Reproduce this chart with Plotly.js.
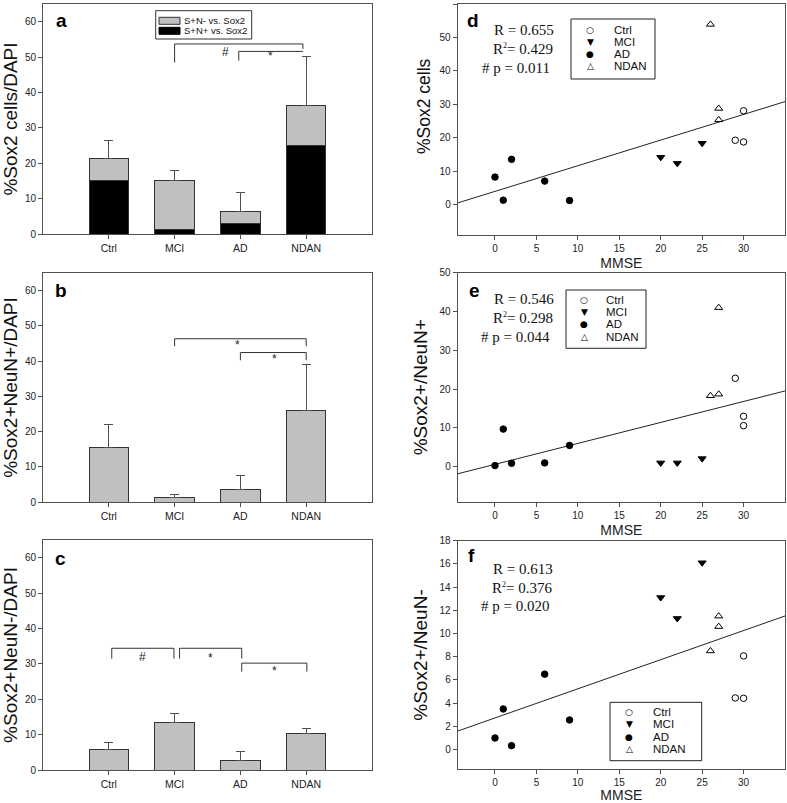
<!DOCTYPE html>
<html><head><meta charset="utf-8">
<script src="https://cdn.plot.ly/plotly-3.0.1.min.js"></script>
<style>body{margin:0;background:#fff}#chart{width:787px;height:803px}</style>
</head><body><div id="chart"></div>
<script>
// ---------- DATA ----------
const categories = ['Ctrl', 'MCI', 'AD', 'NDAN'];
// panel a (stacked)
const aNeuNpos = [15.2, 1.4, 3.0, 25.1];     // S+N+ vs. Sox2 (black)
const aNeuNneg = [6.0, 13.7, 3.5, 11.1];     // S+N- vs. Sox2 (gray, stacked on top)
const aErr = [5.3, 2.9, 5.2, 14.1];
// panel b
const bVal = [15.5, 1.5, 3.5, 26.0];
const bErr = [6.5, 0.6, 4.1, 13.0];
// panel c
const cVal = [5.7, 13.5, 2.8, 10.2];
const cErr = [2.1, 2.5, 2.4, 1.6];
// MMSE scores per group
const mmseCtrl = [29, 30, 30];
const mmseMCI = [20, 22, 25];
const mmseAD = [0, 1, 2, 6, 9];
const mmseNDAN = [26, 27, 27];
// panel d  %Sox2 cells
const dCtrl = [19.3, 18.8, 28.1];
const dMCI = [14.2, 12.4, 18.4];
const dAD = [8.3, 1.4, 13.6, 7.1, 1.3];
const dNDAN = [53.9, 28.8, 25.4];
// panel e  %Sox2+/NeuN+
const eCtrl = [22.8, 13.0, 10.6];
const eMCI = [1.0, 1.0, 2.1];
const eAD = [0.3, 9.7, 0.9, 1.0, 5.5];
const eNDAN = [18.3, 18.7, 41.0];
// panel f  %Sox2+/NeuN-
const fCtrl = [4.45, 4.42, 8.07];
const fMCI = [13.1, 11.3, 16.1];
const fAD = [1.0, 3.5, 0.34, 6.5, 2.55];
const fNDAN = [8.5, 10.6, 11.5];
const SUP2 = 'R<sup><span style="font-size:8px">2</span></sup>';
const statsD = ['R = 0.655', SUP2 + '= 0.429', '# p = 0.011'];
const statsE = ['R = 0.546', SUP2 + '= 0.298', '# p = 0.044'];
const statsF = ['R = 0.613', SUP2 + '= 0.376', '# p = 0.020'];

// ---------- HELPERS ----------
const W = 787, H = 803;
const px = v => v / W;
const py = v => 1 - v / H;
const FONT = 'Liberation Sans, Arial, sans-serif';
const SERIF = 'Liberation Serif, Times New Roman, serif';
const FRAME = '#505050';
const GRAY = '#c0c0c0';

function fitLine(xs, ys) {
  const n = xs.length;
  const mx = xs.reduce((a, b) => a + b, 0) / n;
  const my = ys.reduce((a, b) => a + b, 0) / n;
  let sxy = 0, sxx = 0;
  for (let i = 0; i < n; i++) { sxy += (xs[i] - mx) * (ys[i] - my); sxx += (xs[i] - mx) ** 2; }
  const s = sxy / sxx;
  return { s: s, b: my - s * mx };
}

const traces = [];
function errBar(arr) {
  return { type: 'data', symmetric: false, array: arr, arrayminus: arr.map(() => 0),
           color: FRAME, thickness: 1, width: 4.5 };
}
// panel a
traces.push({ type: 'bar', x: categories, y: aNeuNpos, xaxis: 'x', yaxis: 'y', width: 0.6,
  marker: { color: '#000', line: { color: '#333', width: 1 } }, showlegend: false });
traces.push({ type: 'bar', x: categories, y: aNeuNneg, xaxis: 'x', yaxis: 'y', width: 0.6,
  marker: { color: GRAY, line: { color: '#333', width: 1 } }, error_y: errBar(aErr), showlegend: false });
// panel b
traces.push({ type: 'bar', x: categories, y: bVal, xaxis: 'x2', yaxis: 'y2', width: 0.6,
  marker: { color: GRAY, line: { color: '#333', width: 1 } }, error_y: errBar(bErr), showlegend: false });
// panel c
traces.push({ type: 'bar', x: categories, y: cVal, xaxis: 'x3', yaxis: 'y3', width: 0.6,
  marker: { color: GRAY, line: { color: '#333', width: 1 } }, error_y: errBar(cErr), showlegend: false });

const xRange = [-4.5, 35];
function scatterPanel(xa, ya, ctrl, mci, ad, ndan) {
  const mk = (x, y, sym, size) => ({ type: 'scatter', mode: 'markers', x: x, y: y, xaxis: xa, yaxis: ya,
    marker: { symbol: sym, size: size, color: '#000', line: { color: '#000', width: 1 } }, showlegend: false, cliponaxis: false });
  const allX = mmseCtrl.concat(mmseMCI, mmseAD, mmseNDAN);
  const allY = ctrl.concat(mci, ad, ndan);
  const f = fitLine(allX, allY);
  traces.push({ type: 'scatter', mode: 'lines', x: xRange, y: xRange.map(v => f.s * v + f.b), xaxis: xa, yaxis: ya,
    line: { color: '#222', width: 1 }, showlegend: false });
  traces.push(mk(mmseAD, ad, 'circle', 6.5));
  traces.push(mk(mmseMCI, mci, 'triangle-down', 7));
  traces.push(mk(mmseCtrl, ctrl, 'circle-open', 6.5));
  traces.push(mk(mmseNDAN, ndan, 'triangle-up-open', 7));
}
scatterPanel('x4', 'y4', dCtrl, dMCI, dAD, dNDAN);
scatterPanel('x5', 'y5', eCtrl, eMCI, eAD, eNDAN);
scatterPanel('x6', 'y6', fCtrl, fMCI, fAD, fNDAN);

// ---------- AXES ----------
const tickfont = { family: FONT, size: 10, color: '#222' };
function baseAxis(extra) {
  return Object.assign({ showline: true, mirror: true, linecolor: FRAME, linewidth: 1,
    ticks: 'outside', ticklen: 4, tickcolor: FRAME, tickwidth: 1, tickfont: tickfont,
    showgrid: false, zeroline: false, fixedrange: true }, extra);
}
const leftX = [px(43), px(372)];
const rightX = [px(457.7), px(785)];
const ytitle = (t, s) => ({ text: t, font: { family: FONT, size: 19, color: '#111' }, standoff: s });
const layout = {
  width: W, height: H, margin: { l: 0, r: 0, t: 0, b: 0 }, paper_bgcolor: '#fff', plot_bgcolor: '#fff',
  barmode: 'stack', showlegend: false, font: { family: FONT, color: '#222' },
  xaxis: baseAxis({ domain: leftX, anchor: 'y', type: 'category', range: [-1, 4], tickfont: { family: FONT, size: 10.5, color: '#222' } }),
  yaxis: baseAxis({ domain: [py(234), py(4)], anchor: 'x', range: [0, 65], tickvals: [0, 10, 20, 30, 40, 50, 60],
    title: ytitle('%Sox2 cells/DAPI', 7) }),
  xaxis2: baseAxis({ domain: leftX, anchor: 'y2', type: 'category', range: [-1, 4], tickfont: { family: FONT, size: 10.5, color: '#222' } }),
  yaxis2: baseAxis({ domain: [py(502.3), py(272.7)], anchor: 'x2', range: [0, 65], tickvals: [0, 10, 20, 30, 40, 50, 60],
    title: ytitle('%Sox2+NeuN+/DAPI', 7) }),
  xaxis3: baseAxis({ domain: leftX, anchor: 'y3', type: 'category', range: [-1, 4], tickfont: { family: FONT, size: 10.5, color: '#222' } }),
  yaxis3: baseAxis({ domain: [py(770), py(540)], anchor: 'x3', range: [0, 65], tickvals: [0, 10, 20, 30, 40, 50, 60],
    title: ytitle('%Sox2+NeuN-/DAPI', 7) }),
  xaxis4: baseAxis({ domain: rightX, anchor: 'y4', range: xRange, tickvals: [0, 5, 10, 15, 20, 25, 30],
    title: { text: 'MMSE', font: { family: FONT, size: 14, color: '#222' }, standoff: 5 } }),
  yaxis4: baseAxis({ domain: [py(235), py(4)], anchor: 'x4', range: [-9, 60], tickvals: [0, 10, 20, 30, 40, 50, 60] }),
  xaxis5: baseAxis({ domain: rightX, anchor: 'y5', range: xRange, tickvals: [0, 5, 10, 15, 20, 25, 30],
    title: { text: 'MMSE', font: { family: FONT, size: 14, color: '#222' }, standoff: 5 } }),
  yaxis5: baseAxis({ domain: [py(501.7), py(272.7)], anchor: 'x5', range: [-9, 50], tickvals: [0, 10, 20, 30, 40, 50],
    title: ytitle('%Sox2+/NeuN+', 6) }),
  xaxis6: baseAxis({ domain: rightX, anchor: 'y6', range: xRange, tickvals: [0, 5, 10, 15, 20, 25, 30],
    title: { text: 'MMSE', font: { family: FONT, size: 14, color: '#222' }, standoff: 5 } }),
  yaxis6: baseAxis({ domain: [py(769.3), py(540.7)], anchor: 'x6', range: [-1.7, 18], tickvals: [0, 2, 4, 6, 8, 10, 12, 14, 16, 18],
    title: ytitle('%Sox2+/NeuN-', 6) }),
  shapes: [], annotations: []
};
// panel d y title sits above the panel centre in the reference
layout.annotations.push({ xref: 'paper', yref: 'paper', x: px(424), y: py(106), text: '%Sox2 cells', textangle: -90,
  showarrow: false, xanchor: 'center', yanchor: 'middle', font: { family: FONT, size: 17.5, color: '#111' } });

// ---------- SIGNIFICANCE BRACKETS ----------
function bracket(xa, ya, x1, x2, yl, yd1, yd2, label, lx, ly) {
  const L = { color: '#333', width: 1 };
  layout.shapes.push({ type: 'line', xref: xa, yref: ya, x0: x1, x1: x1, y0: yd1, y1: yl, line: L });
  layout.shapes.push({ type: 'line', xref: xa, yref: ya, x0: x1, x1: x2, y0: yl, y1: yl, line: L });
  layout.shapes.push({ type: 'line', xref: xa, yref: ya, x0: x2, x1: x2, y0: yl, y1: yd2, line: L });
  layout.annotations.push({ xref: xa, yref: ya, x: lx, y: ly, text: label, showarrow: false,
    font: { family: FONT, size: 12, color: '#222' } });
}
bracket('x', 'y', 1.0, 2.95, 53.7, 48.5, 52.3, '#', 1.78, 51.4);
bracket('x', 'y', 1.975, 2.95, 51.6, 49.0, 51.6, '*', 2.45, 50.3);
bracket('x2', 'y2', 1.0, 3.0, 46.3, 44.2, 44.2, '*', 1.95, 44.4);
bracket('x2', 'y2', 2.0, 3.0, 42.4, 40.2, 40.2, '*', 2.52, 40.7);
bracket('x3', 'y3', 0.045, 0.99, 34.4, 31.5, 31.5, '#', 0.51, 32.0);
bracket('x3', 'y3', 1.075, 2.02, 34.4, 31.5, 31.5, '*', 1.54, 31.7);
bracket('x3', 'y3', 2.02, 3.01, 30.2, 27.8, 27.8, '*', 2.52, 28.0);

// ---------- PANEL LETTERS ----------
[['a', 61, 20.7], ['b', 61, 290], ['c', 60, 558], ['d', 473.3, 20.7], ['e', 474, 290], ['f', 471, 555.7]].forEach(p => {
  layout.annotations.push({ xref: 'paper', yref: 'paper', x: px(p[1]), y: py(p[2]), text: '<b>' + p[0] + '</b>',
    showarrow: false, xanchor: 'center', yanchor: 'middle', font: { family: FONT, size: 19, color: '#000' } });
});

// ---------- LEGEND a ----------
layout.shapes.push({ type: 'rect', xref: 'paper', yref: 'paper', x0: px(155.7), x1: px(251.7), y0: py(39), y1: py(10.7),
  line: { color: '#333', width: 1 }, fillcolor: '#fff' });
layout.shapes.push({ type: 'rect', xref: 'paper', yref: 'paper', x0: px(159), x1: px(180), y0: py(24.3), y1: py(17.3),
  line: { color: '#333', width: 1 }, fillcolor: GRAY });
layout.shapes.push({ type: 'rect', xref: 'paper', yref: 'paper', x0: px(159), x1: px(180), y0: py(34.3), y1: py(27.3),
  line: { color: '#000', width: 1 }, fillcolor: '#000' });
[['S+N- vs. Sox2', 20.8], ['S+N+ vs. Sox2', 30.8]].forEach(t => {
  layout.annotations.push({ xref: 'paper', yref: 'paper', x: px(182.3), y: py(t[1]), text: t[0], showarrow: false,
    xanchor: 'left', yanchor: 'middle', font: { family: FONT, size: 9.5, color: '#111' } });
});

// ---------- LEGENDS & STATS d/e/f ----------
const legNames = ['Ctrl', 'MCI', 'AD', 'NDAN'];
const legSyms = ['○', '▼', '●', '△'];
function scatterLegend(box, symX, txtX, rows) {
  layout.shapes.push({ type: 'rect', xref: 'paper', yref: 'paper', x0: px(box[0]), x1: px(box[1]), y0: py(box[3]), y1: py(box[2]),
    line: { color: '#222', width: 1 }, fillcolor: 'rgba(0,0,0,0)' });
  legNames.forEach((n, i) => {
    layout.annotations.push({ xref: 'paper', yref: 'paper', x: px(symX), y: py(rows[i]), text: legSyms[i], showarrow: false,
      xanchor: 'center', yanchor: 'middle', font: { family: 'DejaVu Sans', size: 9, color: '#000' } });
    layout.annotations.push({ xref: 'paper', yref: 'paper', x: px(txtX), y: py(rows[i]), text: n, showarrow: false,
      xanchor: 'left', yanchor: 'middle', font: { family: FONT, size: 11.5, color: '#111' } });
  });
}
scatterLegend([571, 655, 19, 79], 590, 612, [30, 42, 54, 66]);
scatterLegend([566, 646, 290, 348.3], 584.3, 604, [300, 312.3, 324.3, 337]);
scatterLegend([610, 701.7, 702.3, 760.7], 629.3, 650.7, [712, 724, 737, 749]);

function stats(lines, xr, ys) {
  lines.forEach((t, i) => {
    layout.annotations.push({ xref: 'paper', yref: 'paper', x: px(xr[i]), y: py(ys[i]), text: t, showarrow: false,
      xanchor: 'right', yanchor: 'middle', font: { family: SERIF, size: 15, color: '#111' } });
  });
}
stats(statsD, [556, 555, 552], [30, 49.3, 68.3]);
stats(statsE, [556, 555, 552], [299.3, 317.7, 336.7]);
stats(statsF, [555, 554, 551], [569.3, 587.7, 606.3]);

Plotly.newPlot('chart', traces, layout, { displayModeBar: false, staticPlot: true });
</script></body></html>
